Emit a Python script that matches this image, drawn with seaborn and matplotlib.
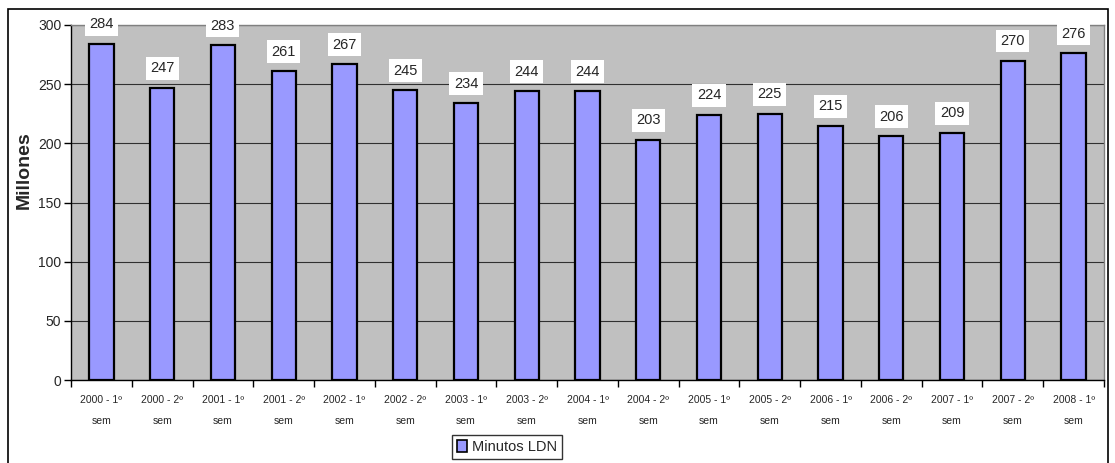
import numpy as np
import pandas as pd
import seaborn as sns
import matplotlib.pyplot as plt
from matplotlib.patches import Rectangle

# Datos del gráfico
periodos = ["2000 - 1º\nsem", "2000 - 2º\nsem", "2001 - 1º\nsem", "2001 - 2º\nsem",
            "2002 - 1º\nsem", "2002 - 2º\nsem", "2003 - 1º\nsem", "2003 - 2º\nsem",
            "2004 - 1º\nsem", "2004 - 2º\nsem", "2005 - 1º\nsem", "2005 - 2º\nsem",
            "2006 - 1º\nsem", "2006 - 2º\nsem", "2007 - 1º\nsem", "2007 - 2º\nsem",
            "2008 - 1º\nsem"]
minutos = [284, 247, 283, 261, 267, 245, 234, 244, 244, 203, 224, 225, 215, 206, 209, 270, 276]
serie = "Minutos LDN"

df = pd.DataFrame({"Periodo": periodos, "Minutos": minutos})

sns.set_style("white")
plt.rcParams['font.family'] = ['Liberation Sans', 'DejaVu Sans']

W, H = 1115, 463
fig = plt.figure(figsize=(W / 100, H / 100), dpi=100)
ax = fig.add_axes([71 / W, 1 - 380 / H, (1104 - 71) / W, (380 - 25) / H])

sns.barplot(data=df, x="Periodo", y="Minutos", color="#9999FF", width=0.4,
            edgecolor="black", linewidth=1.6, saturation=1, ax=ax, label=serie)

ax.set_facecolor("#C0C0C0")
ax.set_ylim(0, 300)
ax.set_xlim(-0.5, len(periodos) - 0.5)
ax.set_yticks(range(0, 301, 50))
ax.yaxis.grid(True, color="#303030", linewidth=0.8)
ax.set_axisbelow(True)

# etiquetas del eje x entre marcas
ax.set_xticks(range(len(periodos)))
ax.set_xticklabels(periodos, fontsize=7.5, linespacing=2.3)
ax.set_xticks(np.arange(-0.5, len(periodos), 1), minor=True)
ax.tick_params(axis="x", which="major", length=0, pad=11)
ax.tick_params(axis="x", which="minor", length=5, width=1, color="black", direction="out")
ax.tick_params(axis="y", length=5, width=1, color="black", direction="out", labelsize=10, pad=2)
ax.tick_params(axis="both", which="both", bottom=True, left=True)

ax.set_xlabel("")
ax.set_ylabel("Millones", fontsize=14, fontweight="bold")
ax.yaxis.set_label_coords(-0.037, 0.59)

for s in ["top", "right"]:
    ax.spines[s].set_color("#808080")
    ax.spines[s].set_linewidth(1)
for s in ["left", "bottom"]:
    ax.spines[s].set_color("black")
    ax.spines[s].set_linewidth(1)

# etiquetas de valores
for i, v in enumerate(minutos):
    ax.annotate(str(v), (i, v), xytext=(0, 14), textcoords="offset points",
                ha="center", va="center", fontsize=10.5, clip_on=False,
                bbox=dict(boxstyle="square,pad=0.3", fc="white", ec="none"))

leg = ax.legend(loc="upper left", bbox_to_anchor=(452 / W, 1 - 435 / H),
                bbox_transform=fig.transFigure, frameon=True, fancybox=False,
                fontsize=10.5, handlelength=0.7, handleheight=0.9, handletextpad=0.3,
                borderpad=0.35, borderaxespad=0)
leg.get_frame().set_edgecolor("black")
leg.get_frame().set_linewidth(1)
for p in leg.get_patches():
    p.set_edgecolor("black")
    p.set_linewidth(1.2)

# marco exterior del gráfico
fig.patches.append(Rectangle((8 / W, -0.05), (1108 - 8) / W, 1.05 - 9 / H,
                             transform=fig.transFigure, fill=False,
                             edgecolor="black", linewidth=1.2))

fig.savefig("out.png", dpi=100)
